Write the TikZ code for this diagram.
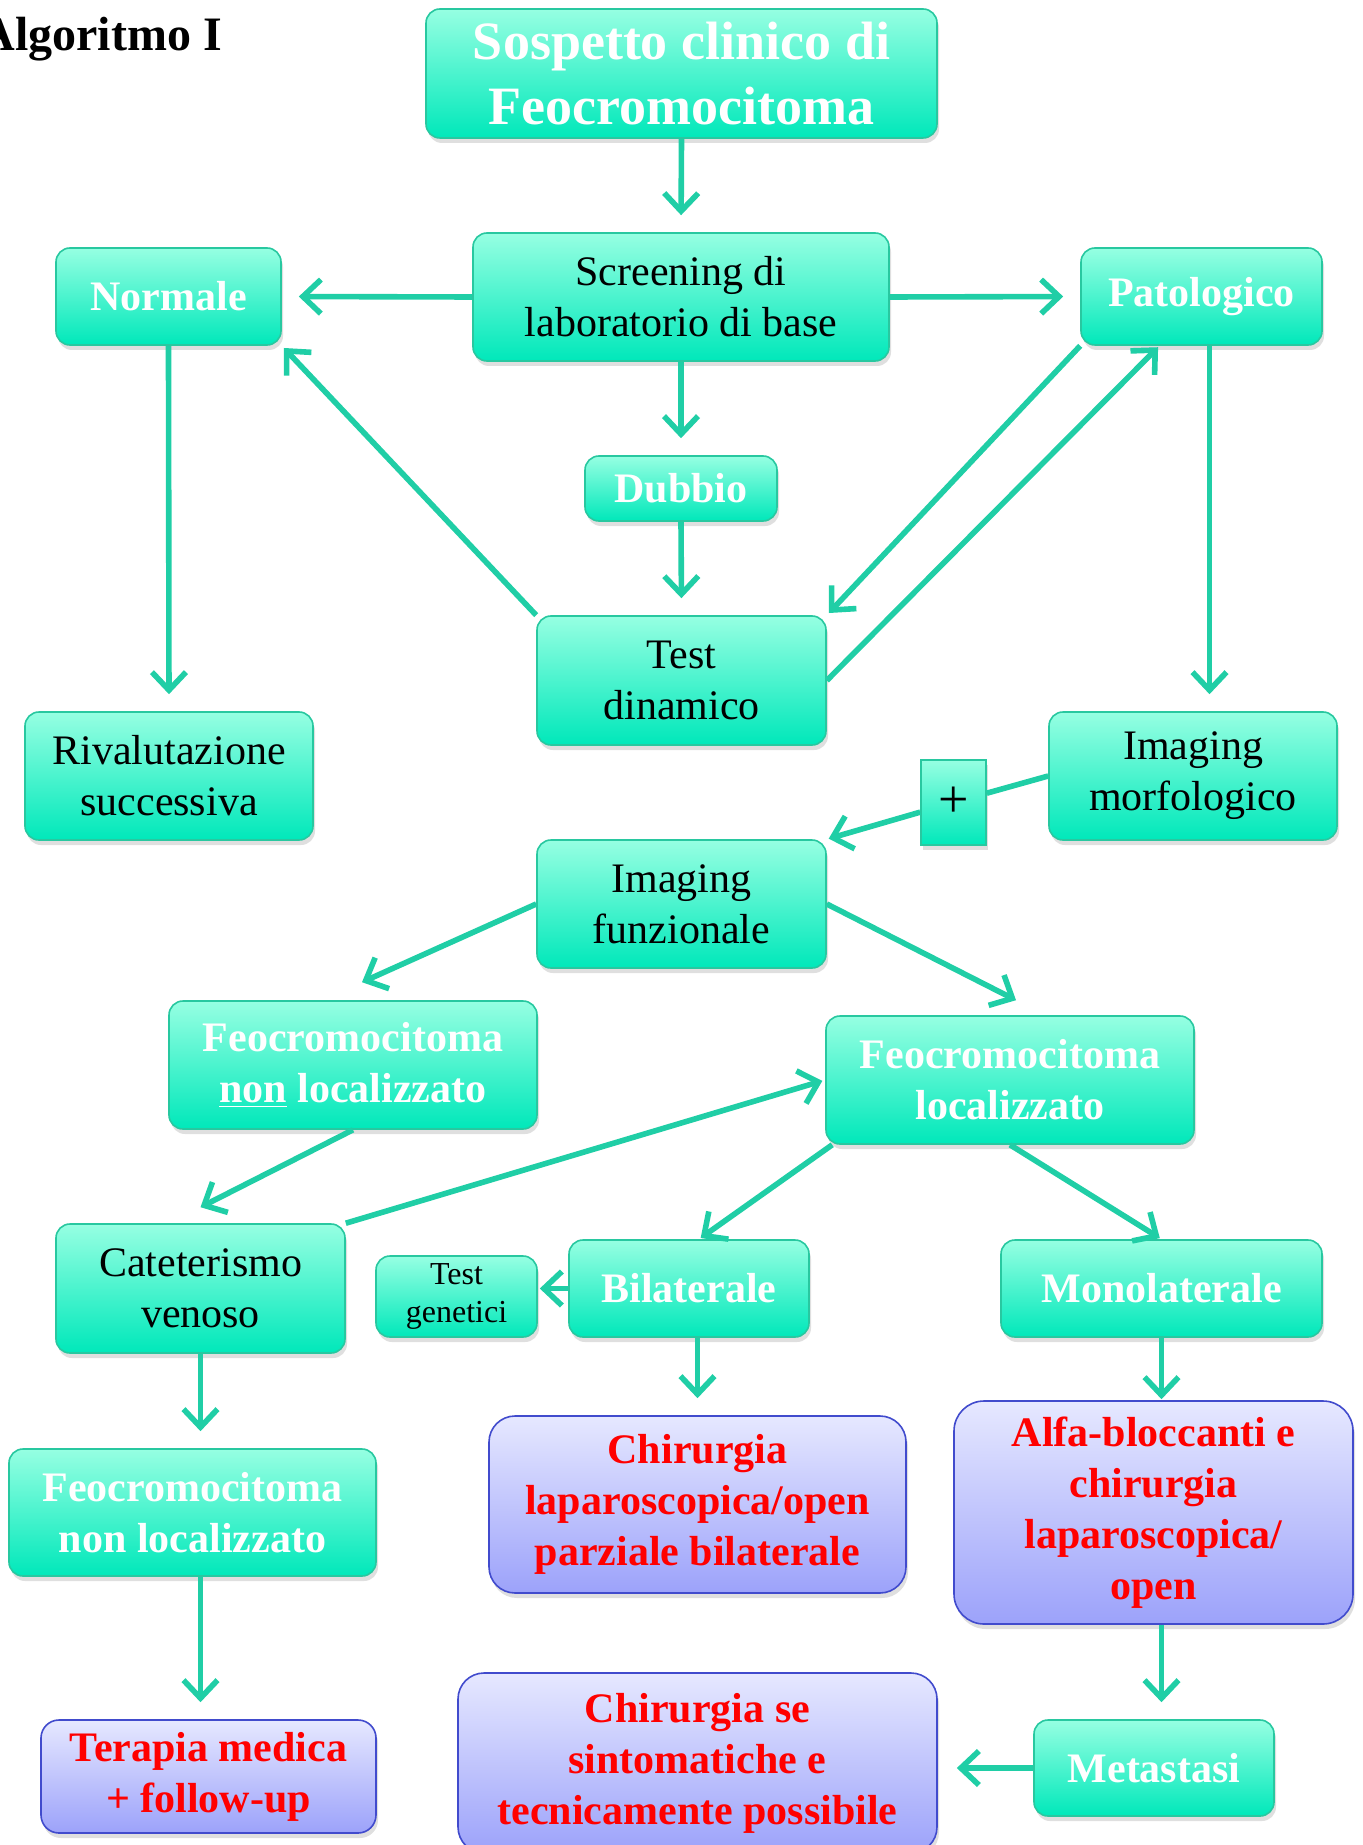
\documentclass[tikz,border=0pt]{standalone}
\usepackage{fontspec}
\setmainfont{Liberation Serif}
\usetikzlibrary{arrows.meta,shadows}
\definecolor{verdetop}{RGB}{150,255,226}
\definecolor{verdebot}{RGB}{0,232,186}
\definecolor{verdeline}{RGB}{40,200,160}
\definecolor{frecciac}{RGB}{32,206,166}
\definecolor{violatop}{RGB}{230,232,255}
\definecolor{violabot}{RGB}{156,162,250}
\definecolor{violaline}{RGB}{65,75,205}

\begin{document}
\begin{tikzpicture}[x=0.5pt,y=-0.5pt,
    box/.style={draw=verdeline, line width=0.8pt, rounded corners=7pt, top color=verdetop, bottom color=verdebot,
      drop shadow={shadow xshift=1pt, shadow yshift=-2.5pt, fill=black!25}, align=center, inner sep=0pt,
      font=\fontsize{21}{25.5}\selectfont},
    bianco/.style={box, text=white, font=\bfseries\fontsize{21}{25.5}\selectfont},
    rosso/.style={box, draw=violaline, top color=violatop, bottom color=violabot, rounded corners=13pt,
      text=red, font=\bfseries\fontsize{21}{25.5}\selectfont},
    arr/.style={draw=frecciac, line width=2.8pt, -{Straight Barb[length=9pt,width=17pt]}, shorten >=8.5pt}]
    \useasboundingbox (0,0) rectangle (1362,1845);

    \node[anchor=base west, inner sep=0pt, font=\bfseries\fontsize{24}{28}\selectfont] (titolo) at (-20,51) {Algoritmo I};

    \node[bianco, minimum width=255.5pt, minimum height=64.5pt, font=\bfseries\fontsize{27}{32.5}\selectfont] (sospetto) at (681.5,73.5) {Sospetto clinico di\\Feocromocitoma};
    \node[box, minimum width=208pt, minimum height=64pt] (screening) at (681,297) {Screening di\\laboratorio di base};
    \node[bianco, minimum width=112.5pt, minimum height=48.5pt] (normale) at (168.5,296.5) {Normale};
    \node[bianco, minimum width=120.5pt, minimum height=48.5pt] (patologico) at (1201.5,296.5) {Patologico};
    \node[bianco, minimum width=96pt, minimum height=32.5pt] (dubbio) at (681,488.5) {Dubbio};
    \node[box, minimum width=144.5pt, minimum height=64.5pt] (dinamico) at (681.5,680.5) {Test\\dinamico};
    \node[box, minimum width=144pt, minimum height=64pt] (rivalutazione) at (169,776) {Rivalutazione\\successiva};
    \node[box, minimum width=144pt, minimum height=64pt] (morfologico) at (1193,776) {Imaging\\morfologico};
    \node[box, rounded corners=0pt, minimum width=32.5pt, minimum height=42.5pt, font=\fontsize{27}{30}\selectfont] (piu) at (953.5,802.5) {+};
    \node[box, minimum width=144.5pt, minimum height=64pt] (funzionale) at (681.5,904) {Imaging\\funzionale};
    \node[bianco, minimum width=184pt, minimum height=64pt] (nonloc) at (353,1065) {Feocromocitoma\\\underline{non} localizzato};
    \node[bianco, minimum width=184pt, minimum height=64pt] (loc) at (1010,1080) {Feocromocitoma\\localizzato};
    \node[box, minimum width=144.5pt, minimum height=64.5pt] (cateterismo) at (200.5,1288.5) {Cateterismo\\venoso};
    \node[box, minimum width=80.5pt, minimum height=40.5pt, font=\fontsize{16}{19}\selectfont] (genetici) at (456.5,1296.5) {Test\\genetici};
    \node[bianco, minimum width=120pt, minimum height=48.5pt] (bilaterale) at (689,1288.5) {Bilaterale};
    \node[bianco, minimum width=160.5pt, minimum height=48.5pt] (monolaterale) at (1161.5,1288.5) {Monolaterale};
    \node[bianco, minimum width=183.5pt, minimum height=63.5pt] (nonloc2) at (192.5,1512.5) {Feocromocitoma\\non localizzato};
    \node[rosso, minimum width=208.5pt, minimum height=88.5pt] (parziale) at (697.5,1504.5) {Chirurgia\\laparoscopica/open\\parziale bilaterale};
    \node[rosso, rounded corners=15pt, minimum width=199.5pt, minimum height=111.5pt] (alfa) at (1153.5,1512.5) {Alfa-bloccanti e\\chirurgia\\laparoscopica/\\open};
    \node[rosso, rounded corners=9pt, minimum width=167.5pt, minimum height=56.5pt] (terapia) at (208.5,1776.5) {Terapia medica\\+ follow-up};
    \node[rosso, minimum width=239.5pt, minimum height=90pt] (sintomatiche) at (697.5,1763) {Chirurgia se\\sintomatiche e\\tecnicamente possibile};
    \node[bianco, minimum width=120pt, minimum height=48pt] (metastasi) at (1154,1768) {Metastasi};

    \draw[arr] (sospetto.south) -- (screening.north);
    \draw[arr] (screening.west) -- (normale.east);
    \draw[arr] (screening.east) -- (patologico.west);
    \draw[arr] (screening.south) -- (dubbio.north);
    \draw[arr] (dubbio.south) -- (dinamico.north);
    \draw[arr] (normale.south) -- (rivalutazione.north);
    \draw[arr, shorten >=1.5pt] (dinamico.north west) -- (normale.south east);
    \draw[arr, shorten >=1.5pt] (patologico.south west) -- (dinamico.north east);
    \draw[arr, shorten >=1pt] (dinamico.east) -- ([xshift=-21pt]patologico.south);
    \draw[arr] ([xshift=4pt]patologico.south) -- ([xshift=4pt]patologico.south |- morfologico.north);
    \draw[draw=frecciac, line width=2.8pt] (morfologico.west) -- (piu);
    \draw[arr, shorten >=1pt] (piu) -- (funzionale.north east);
    \draw[arr, shorten >=0pt] (funzionale.west) -- ([xshift=4.5pt,yshift=9pt]nonloc.north);
    \draw[arr, shorten >=0pt] (funzionale.east) -- ([xshift=3pt,yshift=7.5pt]loc.north);
    \draw[arr, shorten >=0pt] (nonloc.south) -- ([yshift=8pt]cateterismo.north);
    \draw[arr, shorten >=1.5pt] (cateterismo.north east) -- (loc.west);
    \draw[arr, shorten >=1pt] ([xshift=3.5pt]loc.south west) -- ([xshift=5pt]bilaterale.north);
    \draw[arr, shorten >=1pt] (loc.south) -- (monolaterale.north);
    \draw[arr, shorten >=1pt] (bilaterale.west) -- (bilaterale.west -| genetici.east);
    \draw[arr] (bilaterale.south -| parziale) -- (parziale.north);
    \draw[arr, shorten >=0.5pt] (monolaterale.south) -- (monolaterale.south |- alfa.north);
    \draw[arr] (cateterismo.south) -- (cateterismo.south |- nonloc2.north);
    \draw[arr] (nonloc2.south -| cateterismo) -- (terapia.north -| cateterismo);
    \draw[arr] (alfa.south -| monolaterale) -- (metastasi.north -| monolaterale);
    \draw[arr, shorten >=9.5pt] (metastasi.west) -- (metastasi.west -| sintomatiche.east);
\end{tikzpicture}
\end{document}
